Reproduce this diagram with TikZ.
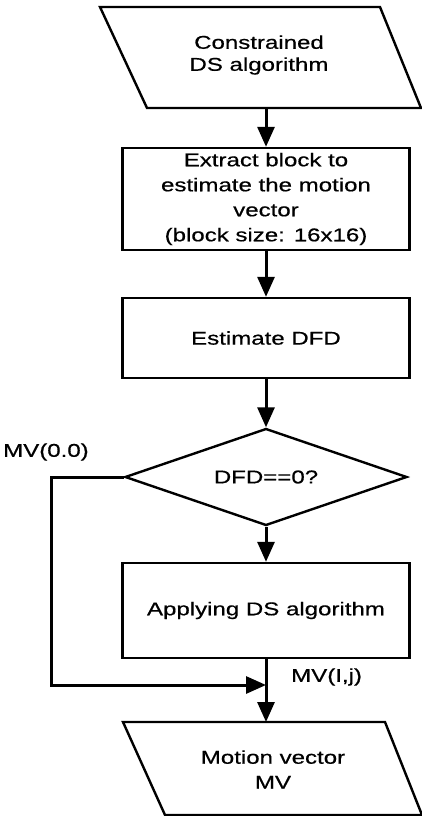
\documentclass[tikz,border=0pt]{standalone}
\usepackage{fontspec}
\setmainfont{Liberation Sans}[FakeStretch=1.3,FakeBold=0.6]
\usetikzlibrary{arrows.meta,shapes.geometric}
\begin{document}
\begin{tikzpicture}[x=1pt,y=-1pt,
  box/.style={draw,line width=2.4pt,minimum width=287pt,inner sep=0pt,align=center,font=\fontsize{18.5}{25}\selectfont},
  txt/.style={inner sep=0pt,align=center,font=\fontsize{18.5}{24}\selectfont},
  flow/.style={line width=3pt,-{Triangle[width=17pt,length=20pt]}},
  outline/.style={line width=2.4pt,line join=miter}
]
\useasboundingbox (0,0) rectangle (422,816);
% top parallelogram
\coordinate (tA) at (100,7);
\coordinate (tB) at (380,7);
\coordinate (tC) at (421,108);
\coordinate (tD) at (147,108);
\draw[outline] (tA)--(tB)--(tC)--(tD)--cycle;
\node[txt,font=\fontsize{18.5}{22}\selectfont] (t1) at (259,55) {Constrained\\DS algorithm};
\coordinate (tout) at (266,108);
% box 1
\node[box,minimum height=102pt] (b1) at (266,199) {Extract block to\\estimate the motion\\vector\\(block size: 16x16)};
\draw[flow] (tout) -- (b1.north);
% box 2
\node[box,minimum height=80pt] (b2) at (266,338) {Estimate DFD};
\draw[flow] (b1) -- (b2);
% diamond
\node[draw,diamond,line width=2.4pt,minimum width=282pt,minimum height=97pt,aspect=2.9,inner sep=0pt,font=\fontsize{18.5}{24}\selectfont] (d) at (266,477) {DFD==0?};
\draw[flow] (b2) -- (d);
% box 3
\node[box,minimum height=95pt] (b3) at (266,610.5) {Applying DS algorithm};
\draw[flow] (d) -- (b3);
% bottom parallelogram
\coordinate (mA) at (123,722);
\coordinate (mB) at (385,722);
\coordinate (mC) at (422,815);
\coordinate (mD) at (165,815);
\draw[outline] (mA)--(mB)--(mC)--(mD)--cycle;
\node[txt,font=\fontsize{18.5}{25}\selectfont] (m1) at (273,769.5) {Motion vector\\MV};
\coordinate (min) at (266,722);
\draw[flow] (b3) -- (min);
% left branch
\coordinate (c1) at (51,477);
\coordinate (c2) at (51,685);
\coordinate (j) at (266,685);
\draw[flow] (d.west) -- (c1) -- (c2) -- (j);
% labels
\node[txt,anchor=west] (l1) at (3,452) {MV(0.0)};
\node[txt,anchor=west] (l2) at (291,677) {MV(I,j)};
\end{tikzpicture}
\end{document}
